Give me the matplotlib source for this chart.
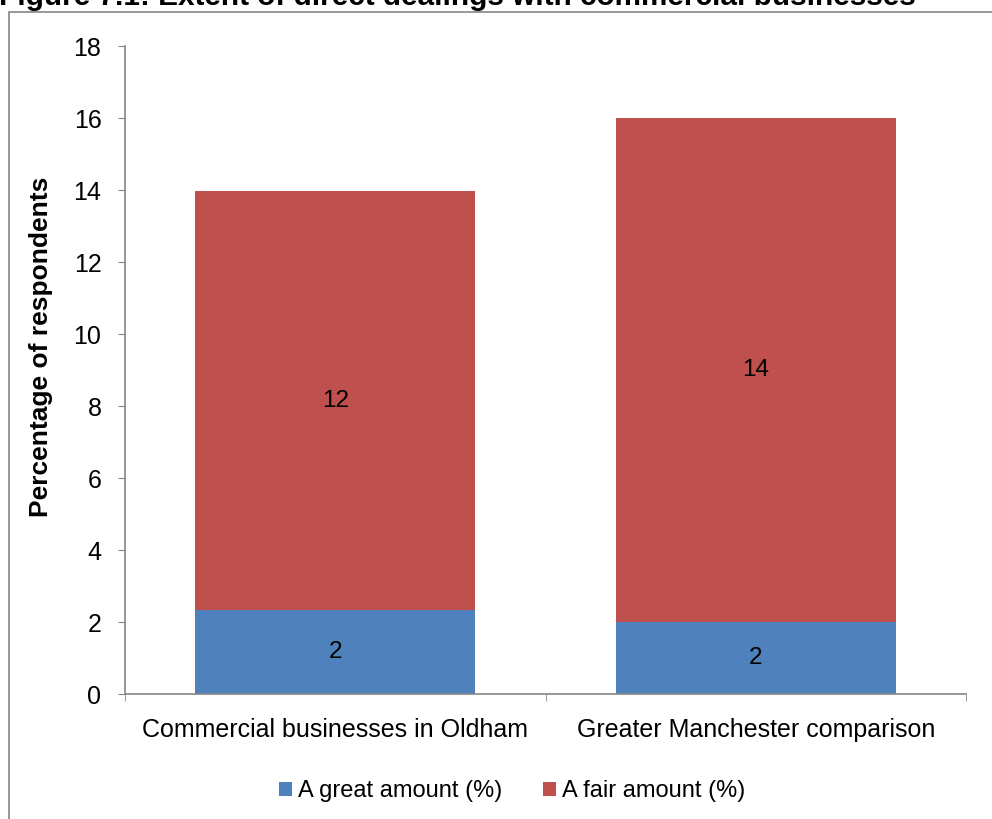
import matplotlib
matplotlib.use("Agg")
import matplotlib.pyplot as plt
from matplotlib.patches import Rectangle
import numpy as np

plt.rcParams['font.family'] = ['Liberation Sans', 'DejaVu Sans']

categories = ["Commercial businesses in Oldham", "Greater Manchester comparison"]
great_amount = [2.33, 2.0]
fair_amount = [11.64, 14.0]
series_names = ["A great amount (%)", "A fair amount (%)"]
colors = ["#4F81BD", "#C0504D"]
title = "Figure 7.1: Extent of direct dealings with commercial businesses"
ylabel = "Percentage of respondents"
yticks = [0, 2, 4, 6, 8, 10, 12, 14, 16, 18]

W, H = 992, 819
fig = plt.figure(figsize=(W / 100, H / 100), dpi=100)

def fx(px):
    return px / W

def fy(py):
    return 1 - py / H

# chart frame
fig.patches.append(Rectangle((fx(9), fy(860)), fx(1100), fy(12) - fy(860),
                             transform=fig.transFigure, fill=False,
                             edgecolor="#868686", linewidth=1.2))

fig.text(fx(-1), fy(5), title, fontsize=21.4, fontweight="bold",
         ha="left", va="baseline")

ax = fig.add_axes([fx(125), fy(694), fx(966) - fx(125), fy(46) - fy(694)])
x = np.arange(len(categories))
b1 = ax.bar(x, great_amount, width=0.667, color=colors[0], label=series_names[0])
b2 = ax.bar(x, fair_amount, width=0.667, bottom=great_amount, color=colors[1],
            label=series_names[1])
for bars, vals, bottoms in ((b1, great_amount, [0, 0]), (b2, fair_amount, great_amount)):
    for rect, v, b in zip(bars, vals, bottoms):
        ax.text(rect.get_x() + rect.get_width() / 2, b + v / 2, f"{v:.0f}",
                ha="center", va="center", fontsize=17.5)

ax.set_xlim(-0.5, 1.5)
ax.set_ylim(0, 18)
ax.set_yticks(yticks)
ax.set_xticks(x)
ax.set_xticklabels(categories, fontsize=18)
ax.tick_params(axis="y", labelsize=18, length=5, color="#868686", pad=12)
ax.tick_params(axis="x", length=0, pad=17)
# category boundary ticks
ax.set_xticks([-0.5, 0.5, 1.5], minor=True)
ax.tick_params(axis="x", which="minor", length=5, color="#868686")
for s in ("top", "right"):
    ax.spines[s].set_visible(False)
for s in ("left", "bottom"):
    ax.spines[s].set_color("#868686")
    ax.spines[s].set_linewidth(1.2)

fig.text(fx(41), fy(347), ylabel, rotation=90, fontsize=19, fontweight="bold",
         ha="center", va="center")

fig.legend(handles=[b1, b2], labels=series_names, loc="center",
           bbox_to_anchor=(fx(512), fy(791)), ncol=2, frameon=False,
           fontsize=17, handlelength=0.55, handleheight=0.55, handletextpad=0.25,
           columnspacing=1.75)

fig.savefig("out.png", dpi=100)
